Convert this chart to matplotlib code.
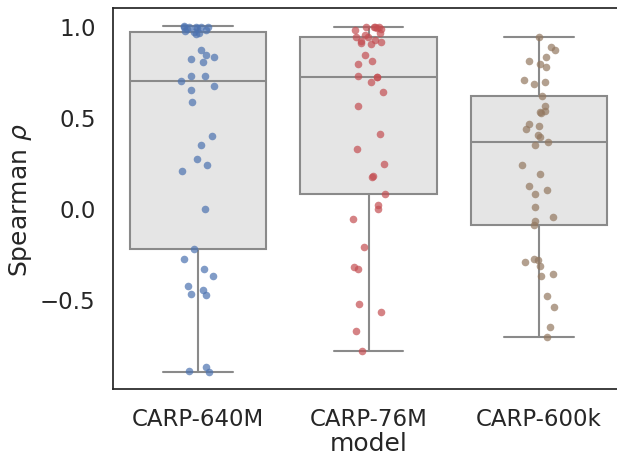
import numpy as np
import matplotlib
matplotlib.use("Agg")
import matplotlib.pyplot as plt
import seaborn as sns

models = ["CARP-640M", "CARP-76M", "CARP-600k"]

carp_640m = [1.0, 0.995, 0.995, 0.99, 0.99, 0.99, 0.985, 0.98, 0.975, 0.97, 0.965, 0.96, 0.955,
             0.864, 0.836, 0.827, 0.818, 0.80, 0.726, 0.726, 0.698, 0.67, 0.645, 0.578,
             0.396, 0.343, 0.269, 0.232, 0.204, -0.007, -0.227, -0.28, -0.335, -0.374,
             -0.427, -0.453, -0.473, -0.48, -0.875, -0.895, -0.90]

carp_76m = [0.995, 0.995, 0.99, 0.99, 0.985, 0.98, 0.975, 0.96, 0.95, 0.94, 0.935, 0.92,
            0.915, 0.91, 0.905, 0.90, 0.836, 0.808, 0.79, 0.726, 0.716, 0.716, 0.689,
            0.634, 0.56, 0.405, 0.322, 0.241, 0.177, 0.168, 0.077, 0.013, -0.007, -0.062,
            -0.217, -0.326, -0.335, -0.529, -0.575, -0.674, -0.785]

carp_600k = [0.935, 0.882, 0.864, 0.827, 0.808, 0.79, 0.772, 0.70, 0.69, 0.68, 0.615,
             0.56, 0.53, 0.525, 0.518, 0.46, 0.451, 0.435, 0.398, 0.388, 0.359, 0.343,
             0.234, 0.186, 0.122, 0.096, 0.077, 0.004, -0.052, -0.07, -0.096, -0.282,
             -0.289, -0.298, -0.317, -0.363, -0.372, -0.483, -0.545, -0.656, -0.711]

series = [carp_640m, carp_76m, carp_600k]

sns.set_theme(style="white", context="talk")
plt.rcParams["font.family"] = ["DejaVu Sans"]

deep = sns.color_palette("deep")
point_colors = [deep[0], deep[3], deep[5]]

fig = plt.figure(figsize=(6.17, 4.56), dpi=100)
ax = fig.add_axes([113 / 617, 66 / 456, 511 / 617, 380.7 / 456])

box_edge = "#8a8a8a"
bp = ax.boxplot(series, positions=range(len(models)), widths=0.8, whis=1.5,
                patch_artist=True, showfliers=False, capwidths=0.41,
                boxprops=dict(facecolor="#e5e5e5", edgecolor=box_edge, linewidth=1.5),
                whiskerprops=dict(color=box_edge, linewidth=1.5),
                capprops=dict(color=box_edge, linewidth=1.5),
                medianprops=dict(color=box_edge, linewidth=1.5),
                zorder=1)

rng = np.random.default_rng(3)
for i, (vals, col) in enumerate(zip(series, point_colors)):
    vals = np.asarray(vals)
    jit = rng.uniform(-0.1, 0.1, size=len(vals))
    ax.scatter(i + jit, vals, s=30, color=col, alpha=0.7, linewidths=0, zorder=3)

ax.set_xlim(-0.5, 2.5)
allv = np.concatenate([np.asarray(s) for s in series])
r = allv.max() - allv.min()
ax.set_ylim(allv.min() - 0.05 * r, allv.max() + 0.05 * r)
ax.set_yticks([-0.5, 0.0, 0.5, 1.0])
ax.set_xticks(range(len(models)))
ax.set_xticklabels(models)
ax.tick_params(axis="x", pad=4)
ax.set_xlabel("model", labelpad=1)
ax.set_ylabel(r"Spearman $\rho$")
for sp in ax.spines.values():
    sp.set_color(".15")
    sp.set_linewidth(1.25)

fig.savefig("out.png", dpi=100)
